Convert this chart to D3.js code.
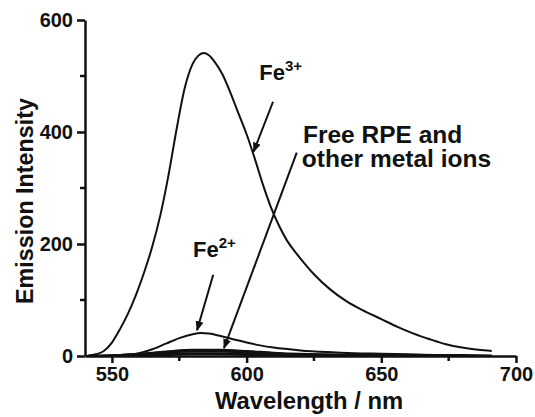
<!DOCTYPE html>
<html>
<head>
<meta charset="utf-8">
<script src="https://cdn.jsdelivr.net/npm/d3@7"></script>
<style>
  body { margin: 0; background: #fff; }
  text { font-family: "Liberation Sans", Arial, sans-serif; font-weight: bold; fill: #111; }
  .axis path, .axis line { stroke: #111; stroke-width: 2.5px; }
  .curve { fill: none; stroke: #111; stroke-width: 2px; }
</style>
</head>
<body>
<div id="chart"></div>
<script>
// Fe3+ emission spectrum
const fe3Wavelength = [541, 544, 547, 550, 553, 556, 559, 562, 565, 568, 571, 574, 577, 580, 582, 584, 586, 588, 591, 594, 597, 600, 603, 606, 609, 612, 615, 618, 620, 625, 631, 637, 643, 650, 656, 662, 668, 674, 680, 686, 691];
const fe3Intensity  = [1, 3, 9, 24, 48, 76, 110, 150, 196, 252, 323, 405, 478, 522, 536, 541, 537, 526, 503, 470, 433, 396, 353, 307, 266, 233, 206, 186, 174, 146, 119, 98, 82, 66, 52, 40, 30, 21, 15, 11, 9];

// Fe2+ emission spectrum
const fe2Wavelength = [541, 550, 555, 560, 565, 570, 575, 580, 583, 586, 590, 595, 600, 605, 610, 620, 630, 640, 650, 660, 670, 680, 691];
const fe2Intensity  = [0, 1, 2, 5, 12, 22, 32, 39, 41, 40, 36, 30, 24, 19, 15, 10, 7, 5, 4, 3, 2, 2, 1];

// free RPE and other metal ions (all near baseline)
const baseWavelength = [541, 550, 560, 570, 580, 590, 600, 610, 620, 630, 640, 660, 680, 691];
const baseSeries = [
  [0, 1, 3, 6, 8, 8, 6, 4, 3, 2, 1, 1, 0, 0],
  [0, 1, 4, 8, 11, 11, 9, 6, 4, 3, 2, 1, 1, 0],
  [0, 0, 2, 4, 5, 5, 4, 3, 2, 1, 1, 0, 0, 0],
  [0, 1, 3, 7, 9, 10, 8, 5, 3, 2, 1, 1, 0, 0],
  [0, 0, 1, 2, 3, 3, 2, 2, 1, 1, 0, 0, 0, 0]
];

const xTicks = [550, 600, 650, 700];
const xMinorTicks = [575, 625, 675];
const yTicks = [0, 200, 400, 600];
const yMinorTicks = [100, 300, 500];

// annotation arrows, in data units [wavelength, intensity]
const arrows = [
  { from: [609.8, 454], to: [602.6, 365] },
  { from: [587.6, 145], to: [581.6, 46] },
  { from: [618.6, 363], to: [591.6, 14] }
];

const width = 535, height = 417;

const svg = d3.select('#chart').append('svg')
  .attr('width', width)
  .attr('height', height);

svg.append('defs').append('marker')
  .attr('id', 'head')
  .attr('viewBox', '0 0 10 10')
  .attr('refX', 9).attr('refY', 5)
  .attr('markerWidth', 5).attr('markerHeight', 5)
  .attr('markerUnits', 'strokeWidth')
  .attr('orient', 'auto')
  .append('path')
  .attr('d', 'M0,1 L10,5 L0,9 Z')
  .attr('fill', '#111');

const x = d3.scaleLinear().domain([540, 700]).range([85, 516]);
const y = d3.scaleLinear().domain([0, 600]).range([356, 20]);

const line = d3.line()
  .x(d => x(d[0]))
  .y(d => y(d[1]))
  .curve(d3.curveMonotoneX);

// curves
baseSeries.forEach(vals => {
  svg.append('path')
    .attr('class', 'curve')
    .attr('stroke-width', 2.4)
    .attr('d', line(baseWavelength.map((w, i) => [w, vals[i]])));
});
svg.append('path')
  .attr('class', 'curve')
  .attr('d', line(fe2Wavelength.map((w, i) => [w, fe2Intensity[i]])));
svg.append('path')
  .attr('class', 'curve')
  .attr('d', line(fe3Wavelength.map((w, i) => [w, fe3Intensity[i]])));

// axes
const xAxis = d3.axisBottom(x).tickValues(xTicks).tickSize(7).tickSizeOuter(0).tickPadding(4).tickFormat(d3.format('d'));
const yAxis = d3.axisLeft(y).tickValues(yTicks).tickSize(8).tickSizeOuter(0).tickPadding(4).tickFormat(d3.format('d'));

const xAxisG = svg.append('g').attr('class', 'axis')
  .attr('transform', `translate(0,${y(0)})`)
  .call(xAxis);
xAxisG.selectAll('text').attr('font-size', 20).style('font-family', '"Liberation Sans", Arial, sans-serif').style('font-weight', 'bold');
xAxisG.selectAll('.minor').data(xMinorTicks).enter().append('line')
  .attr('class', 'minor')
  .attr('x1', d => x(d)).attr('x2', d => x(d))
  .attr('y1', 0).attr('y2', 5);

const yAxisG = svg.append('g').attr('class', 'axis')
  .attr('transform', `translate(${x(540)},0)`)
  .call(yAxis);
yAxisG.selectAll('text').attr('font-size', 20).style('font-family', '"Liberation Sans", Arial, sans-serif').style('font-weight', 'bold');
yAxisG.selectAll('.minor').data(yMinorTicks).enter().append('line')
  .attr('class', 'minor')
  .attr('x1', 0).attr('x2', -5)
  .attr('y1', d => y(d)).attr('y2', d => y(d));

// axis titles
svg.append('text')
  .attr('x', 309).attr('y', 409)
  .attr('text-anchor', 'middle')
  .attr('font-size', 23.8)
  .text('Wavelength / nm');

svg.append('text')
  .attr('transform', 'translate(33,201) rotate(-90)')
  .attr('text-anchor', 'middle')
  .attr('font-size', 23.3)
  .text('Emission Intensity');

// arrows
svg.selectAll('.arrow').data(arrows).enter().append('line')
  .attr('class', 'arrow')
  .attr('x1', d => x(d.from[0])).attr('y1', d => y(d.from[1]))
  .attr('x2', d => x(d.to[0])).attr('y2', d => y(d.to[1]))
  .attr('stroke', '#111').attr('stroke-width', 2)
  .attr('marker-end', 'url(#head)');

// labels
function ionLabel(px, py, base, sup) {
  const t = svg.append('text').attr('x', px).attr('y', py).attr('font-size', 22);
  t.append('tspan').text(base);
  t.append('tspan').attr('font-size', 15).attr('dy', -9).text(sup);
}
ionLabel(x(604.7), y(493), 'Fe', '3+');
ionLabel(x(580.1), y(177), 'Fe', '2+');

svg.append('text')
  .attr('x', x(620.9)).attr('y', y(381))
  .attr('font-size', 24.5)
  .text('Free RPE and');
svg.append('text')
  .attr('x', x(620.5)).attr('y', y(337))
  .attr('font-size', 24.5)
  .text('other metal ions');
</script>
</body>
</html>
